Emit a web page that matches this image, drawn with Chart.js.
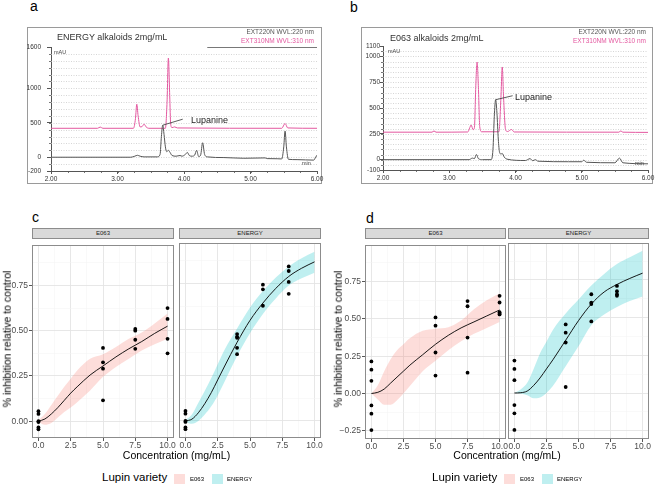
<!DOCTYPE html>
<html>
<head>
<meta charset="utf-8">
<script src="https://cdn.jsdelivr.net/npm/chart.js@4.4.0/dist/chart.umd.min.js"></script>
<style>
  html, body { margin: 0; padding: 0; background: #fff; overflow: hidden; }
  body { width: 657px; height: 484px; position: relative; font-family: "Liberation Sans", Arial, Helvetica, sans-serif; }
  .abs { position: absolute; white-space: nowrap; line-height: 1; }
  canvas { position: absolute; }
  .frame { position: absolute; border: 1px solid #9a9a9a; box-sizing: border-box; }
  .strip { position: absolute; background: #d9d9d9; border: 1px solid #8c8c8c; box-sizing: border-box;
           font-size: 6px; color: #1a1a1a; text-align: center; line-height: 9px; }
  .key { position: absolute; width: 11px; height: 10px; }
</style>
</head>
<body>
<script>
// ---- chromatogram a: ENERGY alkaloids (time in min, signal in mAU)
const aTime220 = [2.00, 3.20, 3.26, 3.30, 3.34, 3.40, 3.60, 3.64, 3.66, 3.68, 3.70, 3.72, 3.74, 3.765, 3.79, 3.82, 3.88, 3.94, 3.97, 4.02, 4.05, 4.08, 4.12, 4.16, 4.19, 4.22, 4.25, 4.28, 4.31, 4.35, 4.60, 4.90, 5.22, 5.25, 5.40, 5.47, 5.50, 5.52, 5.54, 5.57, 5.70, 5.95, 5.98, 6.00];
const aMau220  = [0, 0, 15, 28, 15, 5, 5, 40, 300, 465, 330, 150, 80, 100, 70, 25, 15, 25, 15, 40, 70, 25, 15, 30, 100, 10, 30, 210, 40, 5, -5, -15, -10, -20, -22, -25, 150, 380, 150, -30, -35, -42, 0, 30];
const aTime310 = [2.00, 2.70, 2.74, 2.78, 3.24, 3.27, 3.29, 3.31, 3.34, 3.37, 3.40, 3.43, 3.47, 3.72, 3.745, 3.765, 3.785, 3.80, 3.82, 3.86, 3.90, 5.47, 5.52, 5.56, 6.00];
const aMau310  = [420, 420, 438, 420, 420, 560, 770, 600, 440, 445, 480, 440, 420, 420, 800, 1440, 900, 480, 430, 440, 425, 420, 490, 425, 420];
const aYTicks = [-200, 0, 500, 1000, 1600];

// ---- chromatogram b: E063 alkaloids
const bTime220 = [2.00, 3.30, 3.35, 3.38, 3.41, 3.44, 3.50, 3.63, 3.66, 3.68, 3.70, 3.72, 3.74, 3.76, 3.78, 3.80, 3.83, 3.87, 4.15, 4.22, 4.26, 4.30, 4.34, 4.80, 5.00, 5.03, 5.07, 5.50, 5.57, 5.62, 6.00];
const bMau220  = [0, 0, 15, 10, 50, 10, 0, 0, 100, 420, 580, 450, 200, 70, 55, 60, 25, 5, -8, 10, -10, 0, -15, -20, -20, -5, -25, -30, 15, -30, -40];
const bTime310 = [2.00, 2.74, 2.77, 2.80, 3.28, 3.31, 3.33, 3.36, 3.38, 3.40, 3.42, 3.44, 3.46, 3.49, 3.75, 3.78, 3.80, 3.82, 3.85, 3.88, 3.94, 3.98, 5.56, 5.59, 5.62, 6.00];
const bMau310  = [266, 266, 278, 266, 268, 310, 336, 290, 310, 700, 945, 700, 320, 270, 270, 600, 897, 600, 290, 272, 292, 268, 266, 278, 266, 264];
const bYTicks = [-100, 0, 250, 500, 750, 1000, 1100];
const chromXTicks = [2, 3, 4, 5, 6];

// ---- dose response (concentration mg/mL -> fraction inhibition)
const concTicks = [0, 2.5, 5, 7.5, 10];
const cYTicks = [0, 0.25, 0.5, 0.75];
const dYTicks = [-0.25, 0, 0.25, 0.5, 0.75];
const fitConc = [0, 0.5, 1, 1.5, 2, 2.5, 3, 4, 5, 6, 7, 8, 9, 10];

const cE063Fit = [0, 0.012, 0.04, 0.075, 0.115, 0.155, 0.19, 0.255, 0.305, 0.355, 0.40, 0.44, 0.485, 0.525];
const cE063Lo  = [-0.005, -0.02, -0.01, 0.02, 0.05, 0.075, 0.105, 0.17, 0.245, 0.30, 0.345, 0.39, 0.425, 0.455];
const cE063Hi  = [0.005, 0.04, 0.09, 0.14, 0.19, 0.235, 0.28, 0.345, 0.37, 0.41, 0.455, 0.49, 0.54, 0.595];
const cE063Conc = [0, 0, 0, 0, 0, 0, 5, 5, 5, 5, 7.5, 7.5, 7.5, 7.5, 10, 10, 10, 10];
const cE063Inh  = [0.055, 0.04, 0.0, -0.005, -0.035, -0.045, 0.405, 0.325, 0.29, 0.115, 0.51, 0.50, 0.45, 0.40, 0.625, 0.565, 0.455, 0.375];

const cEnergyFit = [0, 0.01, 0.045, 0.095, 0.155, 0.225, 0.295, 0.43, 0.55, 0.645, 0.725, 0.79, 0.835, 0.87];
const cEnergyLo  = [-0.005, -0.015, 0.0, 0.035, 0.08, 0.14, 0.21, 0.355, 0.48, 0.585, 0.67, 0.74, 0.78, 0.81];
const cEnergyHi  = [0.005, 0.035, 0.10, 0.165, 0.235, 0.31, 0.385, 0.505, 0.62, 0.71, 0.785, 0.845, 0.89, 0.925];
const cEnergyConc = [0, 0, 0, 0, 0, 0, 4, 4, 4, 4, 4, 6, 6, 6, 8, 8, 8, 8];
const cEnergyInh  = [0.055, 0.04, 0.0, -0.005, -0.035, -0.045, 0.475, 0.46, 0.455, 0.40, 0.365, 0.745, 0.72, 0.63, 0.845, 0.82, 0.76, 0.695];

const dE063Fit = [0, 0.008, 0.03, 0.07, 0.11, 0.15, 0.19, 0.26, 0.33, 0.39, 0.44, 0.48, 0.52, 0.56];
const dE063Lo  = [0, -0.04, -0.075, -0.075, -0.045, 0.0, 0.05, 0.15, 0.22, 0.29, 0.35, 0.40, 0.44, 0.48];
const dE063Hi  = [0, 0.055, 0.15, 0.23, 0.29, 0.33, 0.37, 0.42, 0.435, 0.445, 0.49, 0.565, 0.625, 0.67];
const dE063Conc = [0, 0, 0, 0, 0, 0, 5, 5, 5, 5, 7.5, 7.5, 7.5, 7.5, 10, 10, 10, 10, 10];
const dE063Inh  = [0.215, 0.16, 0.085, -0.08, -0.135, -0.245, 0.51, 0.455, 0.275, 0.12, 0.62, 0.585, 0.375, 0.14, 0.655, 0.61, 0.545, 0.535, 0.53];

const dEnergyFit = [0, 0.002, 0.013, 0.05, 0.10, 0.16, 0.22, 0.35, 0.48, 0.59, 0.67, 0.72, 0.76, 0.795];
const dEnergyLo  = [0, -0.005, -0.015, -0.035, -0.03, 0.0, 0.046, 0.177, 0.31, 0.45, 0.52, 0.57, 0.61, 0.64];
const dEnergyHi  = [0, 0.025, 0.068, 0.16, 0.264, 0.34, 0.418, 0.527, 0.62, 0.713, 0.79, 0.855, 0.90, 0.943];
const dEnergyConc = [0, 0, 0, 0, 0, 0, 4, 4, 4, 4, 6, 6, 6, 6, 8, 8, 8, 8];
const dEnergyInh  = [0.215, 0.16, 0.085, -0.08, -0.135, -0.245, 0.455, 0.40, 0.335, 0.04, 0.655, 0.60, 0.59, 0.475, 0.71, 0.675, 0.655, 0.645];

const FONT = '"Liberation Sans", Arial, Helvetica, sans-serif';
const PINK = '#e3579f';
const TRACE = '#555555';
const E063_FILL = 'rgba(248,118,109,0.25)';
const ENERGY_FILL = 'rgba(0,191,196,0.25)';

function pts(xs, ys) {
    return xs.map((x, i) => ({ x: x, y: ys[i] }));
}

function addText(str, x, y, size, opt) {
    opt = opt || {};
    const d = document.createElement('div');
    d.className = 'abs';
    d.textContent = str;
    d.style.left = x + 'px';
    d.style.top = y + 'px';
    d.style.fontSize = size + 'px';
    d.style.color = opt.color || '#000';
    const ax = opt.align === 'right' ? '-100%' : (opt.align === 'center' ? '-50%' : '0');
    d.style.transform = 'translate(' + ax + ',-50%)' + (opt.rotate ? ' rotate(-90deg)' : '');
    document.body.appendChild(d);
    return d;
}

function addBox(cls, x, y, w, h, bg) {
    const d = document.createElement('div');
    d.className = cls;
    d.style.left = x + 'px';
    d.style.top = y + 'px';
    d.style.width = w + 'px';
    d.style.height = h + 'px';
    if (bg) d.style.background = bg;
    document.body.appendChild(d);
    return d;
}

function makeCanvas(left, top, w, h) {
    const c = document.createElement('canvas');
    c.width = w;
    c.height = h;
    c.style.left = left + 'px';
    c.style.top = top + 'px';
    c.style.width = w + 'px';
    c.style.height = h + 'px';
    document.body.appendChild(c);
    return c;
}

// dotted grid, minor ticks and the Lupanine leader line
const chromDeco = {
    id: 'chromDeco',
    beforeDatasetsDraw(chart, args, o) {
        const { ctx, chartArea: a, scales: { x, y } } = chart;
        ctx.save();
        ctx.strokeStyle = '#c4c4c4';
        ctx.lineWidth = 0.7;
        ctx.setLineDash([1, 1.5]);
        for (let v = Math.ceil(y.min / o.step) * o.step; v < y.max; v += o.step) {
            if (v <= y.min) continue;
            const py = Math.round(y.getPixelForValue(v)) + 0.5;
            ctx.beginPath();
            ctx.moveTo(a.left, py);
            ctx.lineTo(a.right, py);
            ctx.stroke();
        }
        ctx.setLineDash([]);
        ctx.strokeStyle = '#555';
        ctx.lineWidth = 0.8;
        ctx.beginPath();
        for (let v = Math.ceil(y.min / o.step) * o.step; v <= y.max; v += o.step) {
            const py = Math.round(y.getPixelForValue(v)) + 0.5;
            ctx.moveTo(a.left - 2, py);
            ctx.lineTo(a.left, py);
        }
        for (let t = x.min; t <= x.max + 1e-9; t += 0.25) {
            const px = Math.round(x.getPixelForValue(t)) + 0.5;
            ctx.moveTo(px, a.bottom);
            ctx.lineTo(px, a.bottom + 2);
        }
        if (o.topFrom != null) {
            ctx.moveTo(x.getPixelForValue(o.topFrom), a.top + 0.5);
            ctx.lineTo(a.right, a.top + 0.5);
        }
        ctx.stroke();
        ctx.restore();
    },
    afterDatasetsDraw(chart, args, o) {
        const { ctx, scales: { x, y } } = chart;
        const px = x.getPixelForValue(o.lupT);
        const py = y.getPixelForValue(o.lupV);
        ctx.save();
        ctx.strokeStyle = '#333';
        ctx.lineWidth = 0.8;
        ctx.beginPath();
        ctx.moveTo(px, py);
        ctx.lineTo(px + o.lead[0], py + o.lead[1]);
        ctx.stroke();
        ctx.restore();
    }
};

function chromatogram(cfg) {
    const box = cfg.box, area = cfg.area;
    addBox('frame', box.x, box.y, box.w, box.h);
    const padR = 13;
    const cw = area.R - box.x + padR;
    const canvas = makeCanvas(box.x, box.y, cw, box.h);
    const tickFont = { family: FONT, size: 6.5 };
    new Chart(canvas, {
        type: 'line',
        data: {
            datasets: [
                { data: pts(cfg.t220, cfg.v220), borderColor: TRACE, borderWidth: 1, pointRadius: 0, cubicInterpolationMode: 'monotone' },
                { data: pts(cfg.t310, cfg.v310), borderColor: PINK, borderWidth: 1, pointRadius: 0, cubicInterpolationMode: 'monotone' }
            ]
        },
        options: {
            responsive: false,
            animation: false,
            devicePixelRatio: 1,
            layout: { padding: { top: area.T - box.y, right: padR, left: 0, bottom: 0 } },
            plugins: {
                legend: { display: false },
                tooltip: { enabled: false },
                chromDeco: cfg.deco
            },
            scales: {
                x: {
                    type: 'linear', min: 2, max: 6,
                    afterBuildTicks: s => { s.ticks = chromXTicks.map(v => ({ value: v })); },
                    afterFit: s => { s.height = box.y + box.h - area.B; },
                    grid: { drawOnChartArea: false, tickLength: 3, tickColor: '#555' },
                    border: { color: '#555' },
                    ticks: { font: tickFont, color: '#333', padding: 1, maxRotation: 0, autoSkip: false, callback: v => v.toFixed(2) }
                },
                y: {
                    type: 'linear', min: cfg.yTicks[0], max: cfg.yTicks[cfg.yTicks.length - 1],
                    afterBuildTicks: s => { s.ticks = cfg.yTicks.map(v => ({ value: v })); },
                    afterFit: s => { s.width = area.L - box.x; },
                    grid: { drawOnChartArea: false, tickLength: cfg.yTickLen, tickColor: '#555' },
                    border: { color: '#555' },
                    ticks: { font: tickFont, color: '#333', padding: cfg.yPad, autoSkip: false, callback: v => String(v) }
                }
            }
        },
        plugins: [chromDeco]
    });
}

function near(list, v) {
    return list.some(t => Math.abs(t - v) < 1e-6);
}

function withMinor(major, lo, hi) {
    const half = (major[1] - major[0]) / 2;
    const out = [];
    for (let v = major[0] - half; v <= major[major.length - 1] + half + 1e-9; v += half) {
        if (v >= lo && v <= hi) out.push(Math.round(v * 1000) / 1000);
    }
    return out;
}

const panelBorder = {
    id: 'panelBorder',
    afterDatasetsDraw(chart) {
        const { ctx, chartArea: a } = chart;
        ctx.save();
        ctx.strokeStyle = '#8c8c8c';
        ctx.lineWidth = 1;
        ctx.strokeRect(Math.round(a.left) + 0.5, Math.round(a.top) + 0.5, Math.round(a.right - a.left) - 1, Math.round(a.bottom - a.top) - 1);
        ctx.restore();
    }
};

function facet(f) {
    addBox('strip', f.L, f.T - 11, f.R - f.L, 11).textContent = f.name;
    const yw = f.showY ? 34 : 0;
    const padL = f.showY ? 0 : 10;
    const padR = 12;
    const xh = 14;
    const left = f.L - yw - padL;
    const w = (f.R - left) + padR;
    const h = (f.B - f.T) + xh;
    const canvas = makeCanvas(left, f.T, w, h);
    const tickFont = { family: FONT, size: 8.5 };
    const xMajor = concTicks;
    new Chart(canvas, {
        type: 'line',
        data: {
            datasets: [
                { data: pts(f.conc, f.inh), showLine: false, pointRadius: 1.9, pointBackgroundColor: '#000', pointBorderWidth: 0 },
                { data: pts(fitConc, f.fit), borderColor: '#000', borderWidth: 0.9, pointRadius: 0, cubicInterpolationMode: 'monotone' },
                { data: pts(fitConc, f.lo), borderWidth: 0, pointRadius: 0, fill: false, cubicInterpolationMode: 'monotone' },
                { data: pts(fitConc, f.hi), borderWidth: 0, pointRadius: 0, fill: '-1', backgroundColor: f.fill, cubicInterpolationMode: 'monotone' }
            ]
        },
        options: {
            responsive: false,
            animation: false,
            devicePixelRatio: 1,
            layout: { padding: { top: 0, right: padR, left: padL, bottom: 0 } },
            plugins: { legend: { display: false }, tooltip: { enabled: false } },
            scales: {
                x: {
                    type: 'linear', min: -0.5, max: 10.5,
                    afterBuildTicks: s => { s.ticks = withMinor(xMajor, -0.5, 10.5).map(v => ({ value: v })); },
                    afterFit: s => { s.height = xh; },
                    grid: {
                        color: c => near(xMajor, c.tick.value) ? '#e4e4e4' : '#f2f2f2',
                        lineWidth: c => near(xMajor, c.tick.value) ? 0.9 : 0.5,
                        tickLength: 3,
                        tickColor: c => near(xMajor, c.tick.value) ? '#444' : 'rgba(0,0,0,0)'
                    },
                    border: { display: false },
                    ticks: { font: tickFont, color: '#4d4d4d', padding: 0, maxRotation: 0, autoSkip: false,
                             callback: v => near(xMajor, v) ? v.toFixed(1) : '' }
                },
                y: {
                    type: 'linear', min: f.yMin, max: f.yMax,
                    afterBuildTicks: s => { s.ticks = withMinor(f.yTicks, f.yMin, f.yMax).map(v => ({ value: v })); },
                    afterFit: s => { s.width = yw; },
                    grid: {
                        color: c => near(f.yTicks, c.tick.value) ? '#e4e4e4' : '#f2f2f2',
                        lineWidth: c => near(f.yTicks, c.tick.value) ? 0.9 : 0.5,
                        drawTicks: f.showY,
                        tickLength: 3,
                        tickColor: c => near(f.yTicks, c.tick.value) ? '#444' : 'rgba(0,0,0,0)'
                    },
                    border: { display: false },
                    ticks: { display: f.showY, font: tickFont, color: '#4d4d4d', padding: 1, autoSkip: false,
                             callback: v => near(f.yTicks, v) ? (v < 0 ? '\u2212' + Math.abs(v).toFixed(2) : v.toFixed(2)) : '' }
                }
            }
        },
        plugins: [panelBorder]
    });
}

function legend(x, y) {
    addText('Lupin variety', x, y, 11.5);
    addBox('key', x + 72, y - 4, 11, 10, E063_FILL);
    addText('E063', x + 88, y + 1, 6);
    addBox('key', x + 110, y - 4, 11, 10, ENERGY_FILL);
    addText('ENERGY', x + 125, y + 1, 6);
}

// panel letters
addText('a', 30, 5.5, 14);
addText('b', 350, 6.5, 14);
addText('c', 32, 217, 14);
addText('d', 366, 217.5, 14);

// chromatograms
chromatogram({
    box: { x: 27, y: 27, w: 295, h: 157 }, area: { L: 51, R: 317, T: 47, B: 171 },
    t220: aTime220, v220: aMau220, t310: aTime310, v310: aMau310, yTicks: aYTicks, yTickLen: 4, yPad: 6,
    deco: { step: 100, lupT: 3.68, lupV: 465, lead: [20, -6], topFrom: 4.35 }
});
addText('ENERGY alkaloids 2mg/mL', 57, 37, 9, { color: '#333' });
addText('EXT220N WVL:220 nm', 314, 32, 6.5, { color: '#555', align: 'right' });
addText('EXT310NM WVL:310 nm', 314, 41, 6.5, { color: PINK, align: 'right' });
addText('mAU', 54, 52.5, 5.5, { color: '#444' });
addText('min', 302, 164, 5.5, { color: '#444' });
addText('Lupanine', 191, 120, 9, { color: '#222' });

chromatogram({
    box: { x: 361, y: 27, w: 292, h: 157 }, area: { L: 383, R: 648, T: 46, B: 170 },
    t220: bTime220, v220: bMau220, t310: bTime310, v310: bMau310, yTicks: bYTicks, yTickLen: 3, yPad: 0,
    deco: { step: 50, lupT: 3.70, lupV: 580, lead: [17, -4] }
});
addText('E063 alkaloids 2mg/mL', 390, 38, 9, { color: '#333' });
addText('EXT220N WVL:220 nm', 646, 32, 6.5, { color: '#555', align: 'right' });
addText('EXT310NM WVL:310 nm', 646, 41, 6.5, { color: PINK, align: 'right' });
addText('mAU', 388, 51.5, 5.5, { color: '#444' });
addText('min', 635, 163.5, 5.5, { color: '#444' });
addText('Lupanine', 515, 97, 9, { color: '#222' });

// dose response, panel c
facet({ name: 'E063', L: 32, R: 174, T: 239, B: 438, showY: true, yMin: -0.093, yMax: 0.973, yTicks: cYTicks,
        fit: cE063Fit, lo: cE063Lo, hi: cE063Hi, conc: cE063Conc, inh: cE063Inh, fill: E063_FILL });
facet({ name: 'ENERGY', L: 179, R: 321, T: 239, B: 438, showY: false, yMin: -0.093, yMax: 0.973, yTicks: cYTicks,
        fit: cEnergyFit, lo: cEnergyLo, hi: cEnergyHi, conc: cEnergyConc, inh: cEnergyInh, fill: ENERGY_FILL });
// panel d
facet({ name: 'E063', L: 365, R: 506, T: 239, B: 439, showY: true, yMin: -0.305, yMax: 0.995, yTicks: dYTicks,
        fit: dE063Fit, lo: dE063Lo, hi: dE063Hi, conc: dE063Conc, inh: dE063Inh, fill: E063_FILL });
facet({ name: 'ENERGY', L: 508, R: 649, T: 239, B: 439, showY: false, yMin: -0.305, yMax: 0.995, yTicks: dYTicks,
        fit: dEnergyFit, lo: dEnergyLo, hi: dEnergyHi, conc: dEnergyConc, inh: dEnergyInh, fill: ENERGY_FILL });

addText('% inhibition relative to control', 7, 338.5, 10.5, { align: 'center', rotate: true });
addText('% inhibition relative to control', 338, 338.5, 10.5, { align: 'center', rotate: true });
addText('Concentration (mg/mL)', 176.5, 455, 10.5, { align: 'center' });
addText('Concentration (mg/mL)', 507, 455, 10.5, { align: 'center' });
legend(102, 478);
legend(432, 478);
</script>
</body>
</html>
